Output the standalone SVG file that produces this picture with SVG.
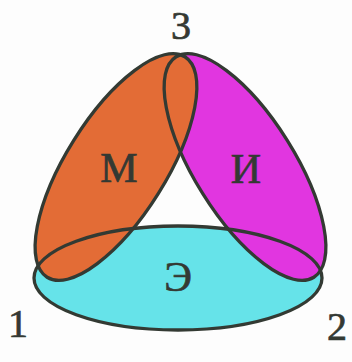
<svg xmlns="http://www.w3.org/2000/svg" width="352" height="362" viewBox="0 0 352 362">
<style>
.o{stroke:#333a33;stroke-width:3.3;fill:none}
.t{font-family:"Liberation Serif","Times New Roman",serif;fill:#343933;stroke:#343933;stroke-width:0.7;text-anchor:middle}
.d{font-size:40px}
.l{font-size:42px}
</style>
<rect width="352" height="362" fill="#fdfdfd"/>
<g id="fills">
<ellipse id="fill-E" cx="178" cy="278" rx="144" ry="52" fill="#66e3e9"/>
<ellipse id="fill-I" cx="0" cy="0" rx="130" ry="50" transform="translate(245,167) rotate(58)" fill="#e136e0"/>
<ellipse id="fill-M" cx="0" cy="0" rx="130" ry="50" transform="translate(116,167) rotate(-58)" fill="#e36c36"/>
</g>
<g id="node-E"><ellipse class="o" cx="178" cy="278" rx="144" ry="52"/><text class="t l" x="178" y="291">Э</text></g>
<g id="node-I"><ellipse class="o" cx="0" cy="0" rx="130" ry="50" transform="translate(245,167) rotate(58)"/><text class="t l" x="246" y="183">И</text></g>
<g id="node-M"><ellipse class="o" cx="0" cy="0" rx="130" ry="50" transform="translate(116,167) rotate(-58)"/><text class="t l" x="119" y="182">М</text></g>
<g id="connectors"></g>
<g id="labels">
<text class="t d" x="181" y="39">3</text>
<text class="t d" x="18" y="337">1</text>
<text class="t d" x="337" y="340">2</text>
</g>
</svg>
